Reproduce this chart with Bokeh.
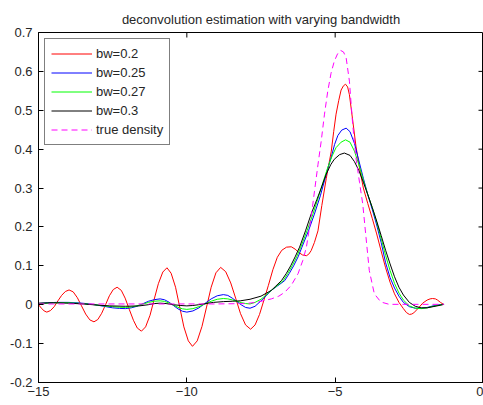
import math
from bokeh.plotting import figure
from bokeh.models import FixedTicker, Range1d
from bokeh.embed import file_html
from bokeh.resources import INLINE

# ---- data ----
x_ticks = [-15, -10, -5, 0]
y_ticks = [-0.2, -0.1, 0.0, 0.1, 0.2, 0.3, 0.4, 0.5, 0.6, 0.7]
y_tick_labels = ["-0.2", "-0.1", "0", "0.1", "0.2", "0.3", "0.4", "0.5", "0.6", "0.7"]

series_names = ["bw=0.2", "bw=0.25", "bw=0.27", "bw=0.3", "true density"]

red_x = [-15.0, -14.9, -14.81, -14.72, -14.595, -14.47, -14.345, -14.22, -14.095, -13.97,
         -13.83, -13.69, -13.55, -13.41, -13.27, -13.13, -13.00, -12.87, -12.74, -12.61, -12.48,
         -12.35, -12.21, -12.08, -11.94, -11.80, -11.67, -11.53, -11.39, -11.24, -11.10, -10.96,
         -10.81, -10.67, -10.53, -10.38, -10.24, -10.10, -9.95, -9.81, -9.65, -9.49, -9.335, -9.18,
         -9.02, -8.86, -8.69, -8.52, -8.355, -8.19, -8.02, -7.85, -7.70, -7.55, -7.40, -7.25, -7.10,
         -6.95, -6.80, -6.64, -6.48, -6.35, -6.22, -6.10, -5.97, -5.89, -5.81, -5.70, -5.58, -5.45,
         -5.30, -5.13, -5.05, -4.97, -4.88, -4.80, -4.72, -4.65, -4.58, -4.52, -4.41, -4.30, -4.18,
         -4.05, -3.90, -3.75, -3.60, -3.45, -3.30, -3.15, -3.00, -2.85, -2.70, -2.60, -2.50, -2.42,
         -2.35, -2.20, -2.05, -1.90, -1.80, -1.72, -1.62, -1.55, -1.45, -1.33]
red_y = [0.000, -0.009, -0.016, -0.019, -0.015, -0.005, 0.010, 0.024, 0.034, 0.038,
         0.033, 0.018, -0.003, -0.024, -0.039, -0.044, -0.038, -0.022, 0.000, 0.023, 0.039,
         0.045, 0.037, 0.017, -0.012, -0.040, -0.060, -0.068, -0.057, -0.027, 0.014, 0.054,
         0.084, 0.095, 0.081, 0.045, -0.006, -0.057, -0.093, -0.107, -0.093, -0.056, -0.006, 0.045,
         0.082, 0.096, 0.085, 0.056, 0.017, -0.023, -0.052, -0.063, -0.052, -0.025, 0.012, 0.050, 0.090,
         0.122, 0.140, 0.148, 0.149, 0.143, 0.134, 0.128, 0.126, 0.130, 0.139, 0.160, 0.190, 0.255,
         0.325, 0.395, 0.445, 0.490, 0.525, 0.552, 0.563, 0.567, 0.560, 0.540, 0.475, 0.408, 0.352,
         0.300, 0.260, 0.222, 0.182, 0.138, 0.095, 0.058, 0.028, 0.006, -0.010, -0.020, -0.025, -0.024,
         -0.021, -0.009, 0.004, 0.012, 0.015, 0.016, 0.015, 0.012, 0.006, 0.000]

blue_x = [-15.0, -14.7, -14.4, -14.0, -13.7, -13.4, -13.1, -12.8, -12.5, -12.27, -12.07, -11.875,
          -11.68, -11.485, -11.29, -11.095, -10.9, -10.75, -10.6, -10.45, -10.3, -10.15, -10.0,
          -9.795, -9.59, -9.385, -9.18, -8.975, -8.77, -8.62, -8.47, -8.32, -8.17, -8.02, -7.87,
          -7.7, -7.5, -7.3, -7.15, -6.95, -6.7, -6.55, -6.4, -6.25, -6.12, -5.9, -5.70, -5.50, -5.36,
          -5.25, -5.13, -5.02, -4.91, -4.78, -4.63, -4.5, -4.35, -4.2, -4.05, -3.9, -3.75, -3.6,
          -3.45, -3.3, -3.15, -3.0, -2.85, -2.7, -2.5, -2.3, -2.1, -1.9, -1.7, -1.5, -1.33]
blue_y = [0.003, 0.005, 0.006, 0.006, 0.005, 0.003, 0.000, -0.004, -0.008, -0.0095, -0.010, -0.008,
          -0.004, 0.0025, 0.009, 0.013, 0.015, 0.0127, 0.0065, -0.002, -0.0105, -0.0167, -0.019,
          -0.016, -0.008, 0.0035, 0.015, 0.023, 0.026, 0.024, 0.017, 0.0085, 0.000, -0.007, -0.009,
          -0.004, 0.010, 0.025, 0.037, 0.048, 0.062, 0.080, 0.100, 0.123, 0.148, 0.190, 0.233, 0.280, 0.319,
          0.350, 0.380, 0.412, 0.435, 0.449, 0.454, 0.445, 0.415, 0.370, 0.325, 0.283, 0.245, 0.205,
          0.160, 0.108, 0.070, 0.043, 0.022, 0.006, -0.005, -0.009, -0.009, -0.007, -0.003, 0.000, 0.001]

green_x = [-15.0, -14.7, -14.4, -14.0, -13.7, -13.4, -13.1, -12.8, -12.5, -12.27, -12.07, -11.875,
           -11.68, -11.485, -11.29, -11.095, -10.9, -10.75, -10.6, -10.45, -10.3, -10.15, -10.0,
           -9.795, -9.59, -9.385, -9.18, -8.975, -8.77, -8.62, -8.47, -8.32, -8.17, -8.02, -7.87,
           -7.7, -7.5, -7.3, -7.15, -6.95, -6.75, -6.6, -6.45, -6.3, -6.16, -5.95, -5.75, -5.55, -5.43,
           -5.25, -5.1, -4.97, -4.80, -4.65, -4.5, -4.35, -4.2, -4.05, -3.9, -3.75, -3.6,
           -3.45, -3.3, -3.15, -3.0, -2.85, -2.7, -2.5, -2.3, -2.1, -1.9, -1.7, -1.5, -1.33]
green_y = [0.003, 0.004, 0.005, 0.005, 0.004, 0.002, 0.000, -0.003, -0.005, -0.0065, -0.007, -0.006,
           -0.003, 0.0015, 0.006, 0.009, 0.010, 0.0085, 0.0045, -0.001, -0.0065, -0.0105, -0.012,
           -0.010, -0.005, 0.002, 0.009, 0.014, 0.016, 0.015, 0.0125, 0.009, 0.0055, 0.003, 0.002,
           0.006, 0.014, 0.027, 0.037, 0.049, 0.062, 0.080, 0.100, 0.123, 0.148, 0.190, 0.233, 0.280, 0.310,
           0.353, 0.383, 0.404, 0.418, 0.424, 0.418, 0.395, 0.360, 0.320, 0.283, 0.250, 0.212,
           0.170, 0.127, 0.088, 0.055, 0.030, 0.012, -0.003, -0.009, -0.010, -0.008, -0.004, -0.001, 0.001]

black_x = [-15.0, -14.5, -14.0, -13.5, -13.0, -12.6, -12.07, -11.6, -11.3, -11.1, -10.9, -10.7,
           -10.45, -10.2, -10.0, -9.8, -9.6, -9.35, -9.1, -8.77, -8.45, -8.2, -7.87, -7.5, -7.15,
           -7.0, -6.81, -6.65, -6.5, -6.35, -6.2, -6.0, -5.81, -5.62, -5.47, -5.30, -5.15, -5.03,
           -4.85, -4.69, -4.5, -4.35, -4.2, -4.05, -3.9, -3.75, -3.6, -3.45, -3.3, -3.15, -3.0,
           -2.85, -2.7, -2.5, -2.3, -2.1, -1.9, -1.7, -1.5, -1.33]
black_y = [0.004, 0.005, 0.004, 0.002, -0.001, -0.003, -0.004, -0.003, 0.000, 0.003, 0.004, 0.003,
           0.000, -0.002, -0.003, -0.002, 0.000, 0.003, 0.006, 0.008, 0.009, 0.010, 0.014, 0.022, 0.037,
           0.048, 0.062, 0.080, 0.100, 0.123, 0.148, 0.190, 0.233, 0.270, 0.300, 0.336, 0.360, 0.374,
           0.386, 0.390, 0.384, 0.368, 0.345, 0.315, 0.283, 0.250, 0.215, 0.178, 0.140, 0.105, 0.072,
           0.045, 0.025, 0.006, -0.004, -0.008, -0.008, -0.005, -0.002, 0.001]

true_x = [-15.0, -13.0, -11.0, -9.0, -8.0, -7.6, -7.15, -6.90, -6.70, -6.48, -6.25, -6.09, -5.97,
          -5.81, -5.70, -5.58, -5.47, -5.36, -5.25, -5.14, -5.03, -4.92, -4.82, -4.72, -4.63, -4.52,
          -4.41, -4.30, -4.18, -4.07, -3.96, -3.85, -3.68, -3.46, -3.18, -2.5, -1.33]
true_y = [0.002, 0.002, 0.002, 0.002, 0.003, 0.007, 0.015, 0.022, 0.032, 0.050, 0.080, 0.114, 0.148,
          0.225, 0.290, 0.360, 0.421, 0.490, 0.549, 0.595, 0.626, 0.645, 0.654, 0.650, 0.635, 0.575,
          0.464, 0.378, 0.315, 0.259, 0.173, 0.088, 0.028, 0.007, 0.001, 0.001, 0.001]

FONT = "Liberation Sans"
TXT = "#262626"
X_MIN, X_MAX = -15, 0
Y_MIN, Y_MAX = -0.2, 0.7

p = figure(width=483, height=405, output_backend="svg", toolbar_location=None,
           x_range=Range1d(X_MIN, X_MAX), y_range=Range1d(Y_MIN, Y_MAX),
           min_border_left=38, min_border_right=0, min_border_top=32, min_border_bottom=23,
           title="deconvolution estimation with varying bandwidth")
p.background_fill_color = "white"
p.border_fill_color = "white"
p.outline_line_color = "black"
p.outline_line_width = 1
p.xgrid.visible = False
p.ygrid.visible = False

p.title.align = "center"
p.title.text_font = FONT
p.title.text_font_size = "13px"
p.title.text_font_style = "normal"
p.title.text_color = TXT
p.title.standoff = 11

p.xaxis.ticker = FixedTicker(ticks=x_ticks)
p.yaxis.ticker = FixedTicker(ticks=y_ticks)
p.yaxis.major_label_overrides = {v: s for v, s in zip(y_ticks, y_tick_labels)}
for ax in (p.xaxis[0], p.yaxis[0]):
    ax.major_tick_in = 5
    ax.major_tick_out = 0
    ax.minor_tick_line_color = None
    ax.axis_line_color = "black"
    ax.major_tick_line_color = "black"
    ax.major_label_text_font = FONT
    ax.major_label_text_font_size = "13px"
    ax.major_label_text_color = TXT
p.yaxis.major_label_standoff = 6
p.xaxis.major_label_standoff = 4

# inward ticks on the top and right edges of the box (MATLAB style)
top_ticks = x_ticks[1:-1]
right_ticks = y_ticks[1:-1]
p.ray(x=top_ticks, y=[Y_MAX] * len(top_ticks), length=5, length_units="screen",
      angle=-math.pi / 2, line_color="black", line_width=1)
p.ray(x=[X_MAX] * len(right_ticks), y=right_ticks, length=5, length_units="screen",
      angle=math.pi, line_color="black", line_width=1)

p.line(red_x, red_y, line_color="#ff0000", line_width=1, legend_label=series_names[0])
p.line(blue_x, blue_y, line_color="#0000ff", line_width=1, legend_label=series_names[1])
p.line(green_x, green_y, line_color="#00ff00", line_width=1, legend_label=series_names[2])
p.line(black_x, black_y, line_color="#000000", line_width=1, legend_label=series_names[3])
p.line(true_x, true_y, line_color="#ff00ff", line_width=1, line_dash="6 4",
       legend_label=series_names[4])

lg = p.legend[0]
lg.location = "top_left"
lg.margin = 6
lg.padding = 6
lg.spacing = 2
lg.glyph_width = 41
lg.glyph_height = 17
lg.label_height = 17
lg.label_standoff = 4
lg.label_text_font = FONT
lg.label_text_font_size = "13px"
lg.label_text_color = TXT
lg.border_line_color = "black"
lg.border_line_width = 1
lg.background_fill_color = "white"
lg.background_fill_alpha = 1

open("out.html", "w").write(file_html(p, INLINE))
